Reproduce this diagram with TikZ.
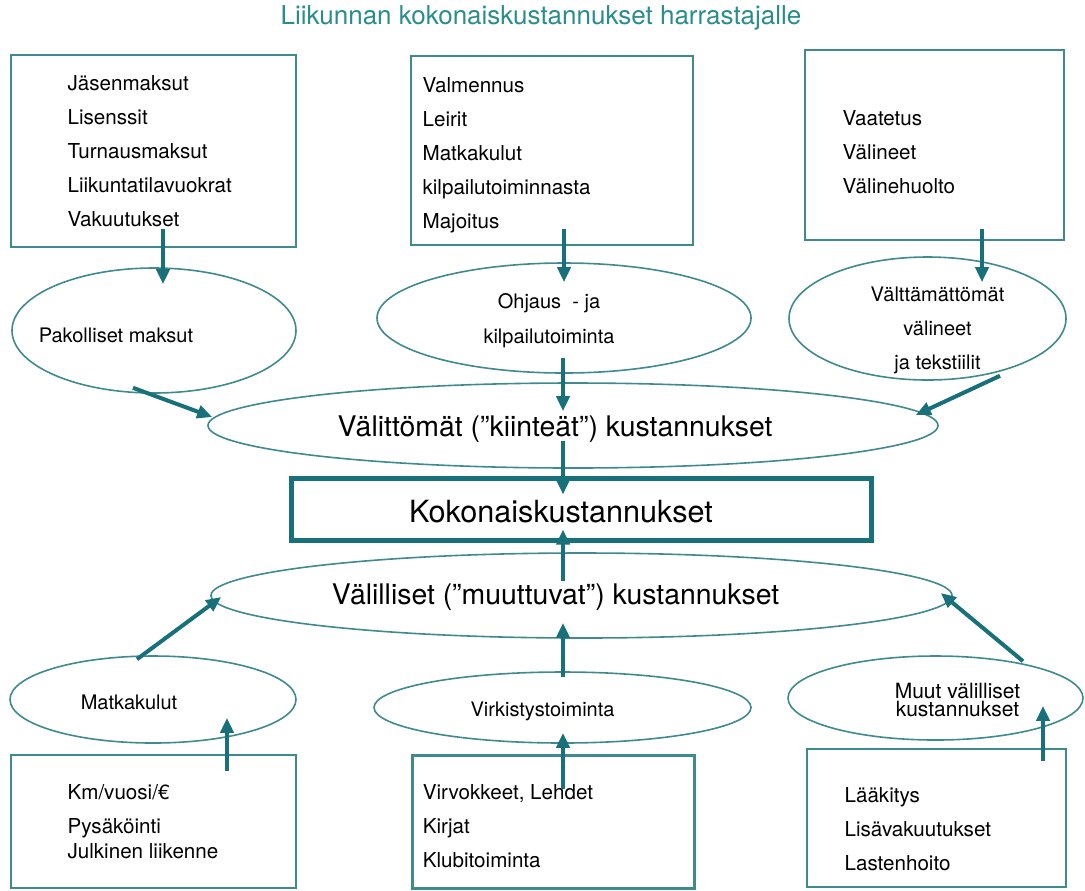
\documentclass[tikz,border=0pt]{standalone}
\usepackage{fontspec}
\setmainfont{TeX Gyre Heros}
\usetikzlibrary{shapes.geometric,arrows.meta,calc}
\definecolor{tealarrow}{HTML}{17707A}
\definecolor{tealline}{HTML}{3F8A8F}
\definecolor{tealtitle}{HTML}{2A8C8E}
\tikzset{
  listbox/.style={draw=tealline, line width=0.8pt, rectangle, inner sep=0pt},
  oval/.style={draw=tealline, line width=0.8pt, ellipse, inner sep=0pt},
  listtxt/.style={font=\fontsize{10.3}{17}\selectfont, align=left, inner sep=0pt},
  ovaltxt/.style={font=\fontsize{10}{12}\selectfont, align=center, inner sep=0pt},
  bigtxt/.style={font=\fontsize{14.2}{17}\selectfont, inner sep=0pt},
  arr/.style={draw=tealarrow, line width=2pt, -{Triangle[length=7.5pt,width=6.5pt]}},
}
\begin{document}
\begin{tikzpicture}[x=0.5pt, y=-0.5pt]
  \useasboundingbox (0,0) rectangle (1085,890);
  \node[font=\fontsize{13}{15}\selectfont, text=tealtitle] (title) at (541,18) {Liikunnan kokonaiskustannukset harrastajalle};

  % top boxes
  \node[listbox, minimum width=142.5pt, minimum height=96pt,
    label={[listtxt, anchor=west, xshift=28.5pt]west:{Jäsenmaksut\\Lisenssit\\Turnausmaksut\\Liikuntatilavuokrat\\Vakuutukset}}] (maksut) at (153.5,151) {};
  \node[listbox, minimum width=141pt, minimum height=94.5pt,
    label={[listtxt, anchor=west, xshift=6pt, yshift=-2.5pt]west:{Valmennus\\Leirit\\Matkakulut\\kilpailutoiminnasta\\Majoitus}}] (valmennus) at (552,150.5) {};
  \node[listbox, minimum width=129.5pt, minimum height=95pt,
    label={[listtxt, anchor=west, xshift=19pt, yshift=-3.5pt]west:{Vaatetus\\Välineet\\Välinehuolto}}] (vaatetus) at (934.5,145) {};

  % first row of ovals
  \node[oval, minimum width=142pt, minimum height=62.5pt,
    label={[ovaltxt, xshift=-19pt, yshift=-2.25pt]center:Pakolliset maksut}] (pakolliset) at (154,330.5) {};
  \node[oval, minimum width=187pt, minimum height=55pt,
    label={[ovaltxt, font=\fontsize{10}{17.5}\selectfont, xshift=-7.5pt, yshift=-1.25pt]center:{Ohjaus\ \ - ja\\kilpailutoiminta}}] (ohjaus) at (564,318) {};
  \node[oval, minimum width=138.5pt, minimum height=61.5pt,
    label={[ovaltxt, font=\fontsize{10}{17}\selectfont, xshift=5pt, yshift=-6pt]center:{Välttämättömät\\välineet\\ja tekstiilit}}] (valineet) at (927.5,318.5) {};

  \node[oval, minimum width=365pt, minimum height=42.5pt,
    label={[bigtxt, xshift=-9pt, yshift=-2pt]center:Välittömät (”kiinteät”) kustannukset}] (valittomat) at (573,425.5) {};
  \node[draw=tealarrow, line width=2.5pt, minimum width=290pt, minimum height=31pt, inner sep=0pt,
    label={[inner sep=0pt, font=\fontsize{15.3}{17}\selectfont, xshift=-10pt, yshift=-1.5pt]center:Kokonaiskustannukset}] (kokonais) at (581,509) {};
  \node[oval, minimum width=370.5pt, minimum height=42.5pt,
    label={[bigtxt, xshift=-13pt, yshift=-1pt]center:Välilliset (”muuttuvat”) kustannukset}] (valilliset) at (581.5,595.5) {};

  % second row of ovals
  \node[oval, minimum width=143pt, minimum height=43.5pt,
    label={[ovaltxt, xshift=-12pt, yshift=-1.5pt]center:Matkakulut}] (matkat) at (153,699.5) {};
  \node[oval, minimum width=188.5pt, minimum height=35.5pt,
    label={[ovaltxt, xshift=-10pt, yshift=-2pt]center:Virkistystoiminta}] (virkistys) at (562.5,707.5) {};
  \node[oval, minimum width=147.5pt, minimum height=42pt,
    label={[ovaltxt, font=\fontsize{10.5}{9}\selectfont, xshift=11pt, yshift=-1pt]center:{Muut välilliset\\kustannukset}}] (muut) at (935.5,698) {};

  % bottom boxes
  \node[listbox, minimum width=142.5pt, minimum height=66.5pt,
    label={[listtxt, anchor=west, xshift=28.5pt]west:{Km/vuosi/€\\Pysäköinti\\[-4.5pt]Julkinen liikenne}}] (km) at (153.5,821.5) {};
  \node[listbox, line width=1.5pt, minimum width=141pt, minimum height=66.5pt,
    label={[listtxt, anchor=west, xshift=6pt, yshift=-2.25pt]west:{Virvokkeet, Lehdet\\Kirjat\\Klubitoiminta}}] (virvokkeet) at (553,821.5) {};
  \node[listbox, minimum width=129.5pt, minimum height=69pt,
    label={[listtxt, anchor=west, xshift=19pt, yshift=-5.5pt]west:{Lääkitys\\Lisävakuutukset\\Lastenhoito}}] (laakitys) at (936.5,818) {};

  % arrows
  \draw[arr] ($(maksut.south)+(9.5,-19)$) -- ($(pakolliset.north)+(9,17)$);
  \draw[arr] ($(valmennus.south)+(12,-17)$) -- ($(ohjaus.north)+(0,20)$);
  \draw[arr] ($(vaatetus.south)+(47.5,-12)$) -- ($(valineet.north)+(54.5,26)$);
  \draw[arr] ($(pakolliset.south)+(-21,-6)$) -- ($(valittomat.west)+(5,-8.5)$);
  \draw[arr] ($(valineet.south)+(72.5,-5)$) -- ($(valittomat.east)+(-23,-10.5)$);
  \draw[arr] ($(ohjaus.south)+(-1,-16)$) -- ($(valittomat.north)+(-10,29)$);
  \draw[arr] ($(valittomat.south)+(-10,-28)$) -- ($(kokonais.north)+(-18,19)$);
  \draw[arr] ($(valilliset.north)+(-18.5,29)$) -- ($(kokonais.south)+(-18,-13)$);
  \draw[arr] ($(virkistys.north)+(0.5,6)$) -- ($(valilliset.south)+(-18.5,-16)$);
  \draw[arr] ($(virvokkeet.north)+(10,35)$) -- ($(virkistys.south)+(0.5,-11)$);
  \draw[arr] ($(matkat.north)+(-16,4)$) -- ($(valilliset.west)+(11,1.5)$);
  \draw[arr] ($(muut.north)+(87.5,6)$) -- ($(valilliset.east)+(-12,-2.5)$);
  \draw[arr] ($(km.north)+(73.5,17)$) -- ($(matkat.south)+(74,-26)$);
  \draw[arr] ($(laakitys.north)+(106.5,13)$) -- ($(muut.south)+(107.5,-35)$);
\end{tikzpicture}
\end{document}
